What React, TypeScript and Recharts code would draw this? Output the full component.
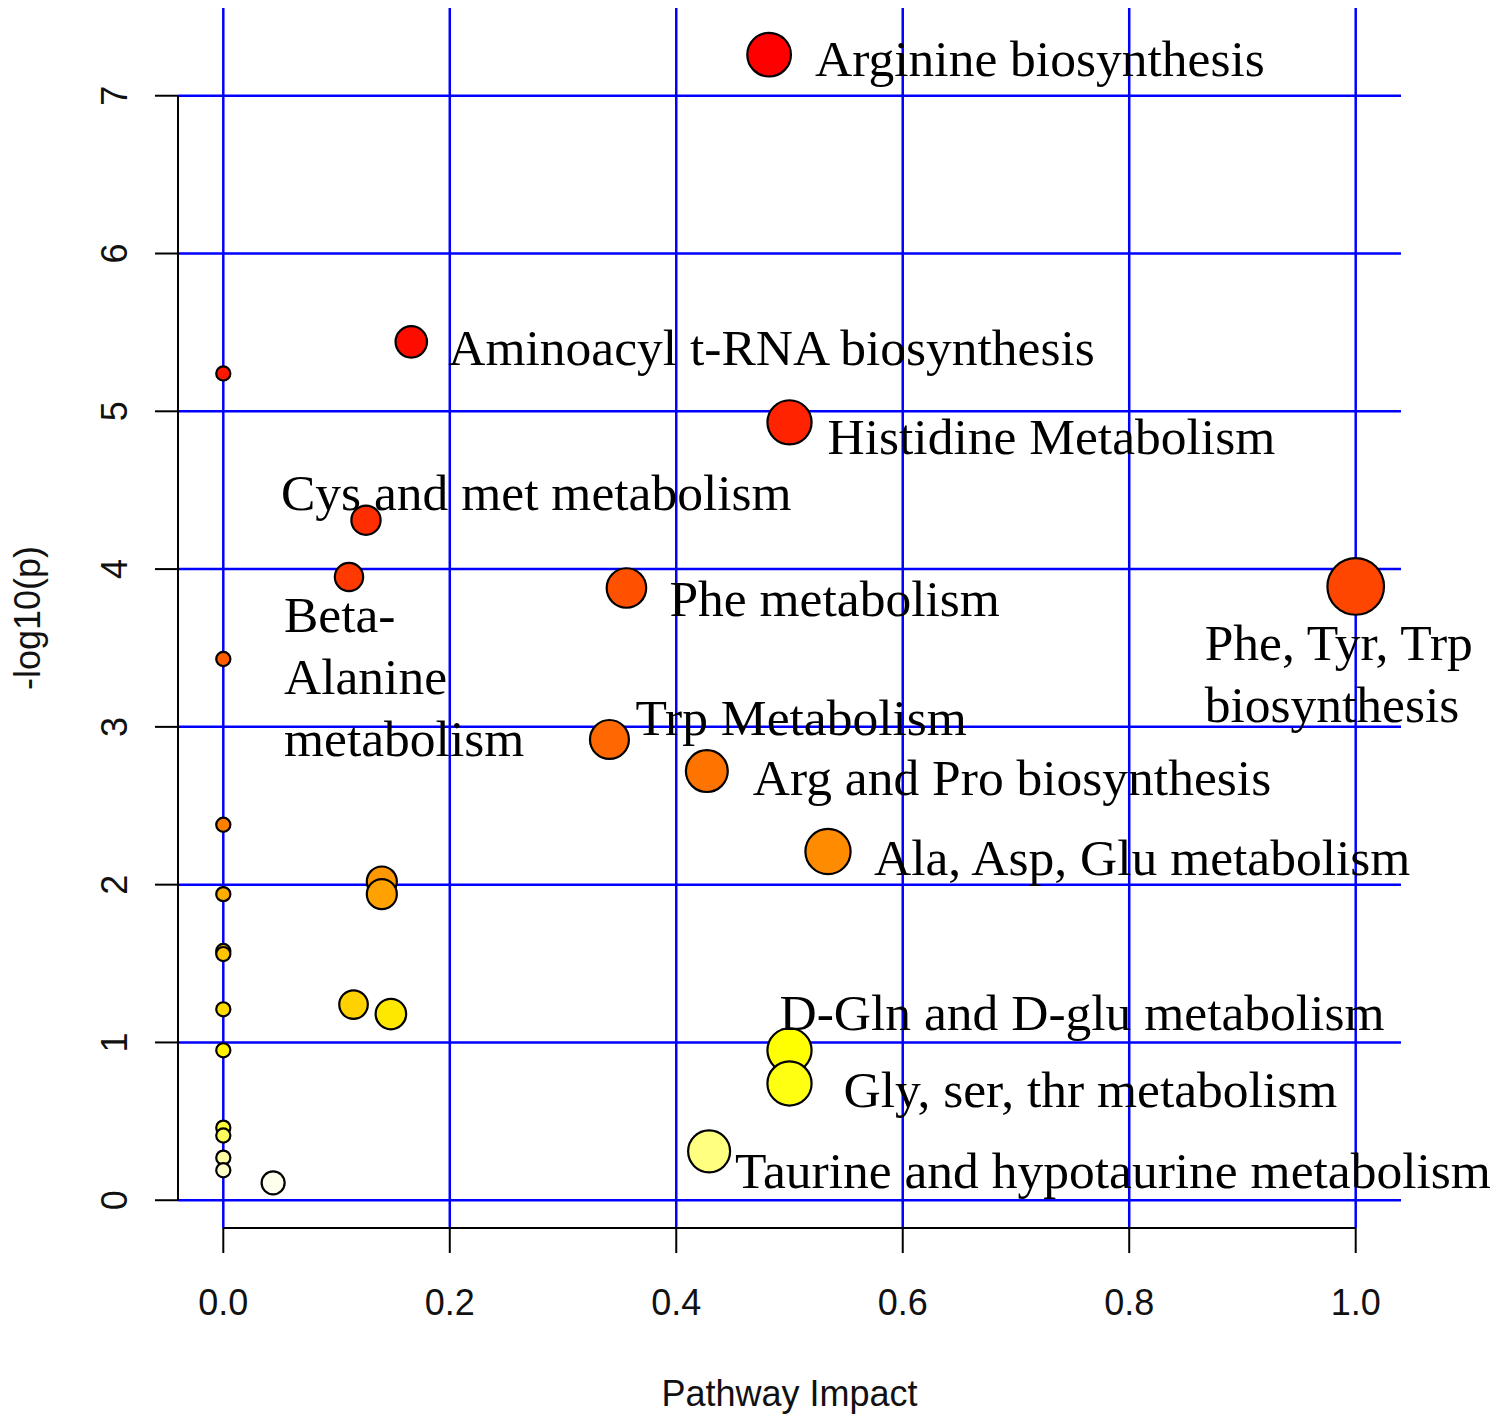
import React from 'react'
import {
  ScatterChart,
  Scatter,
  XAxis,
  YAxis,
  ReferenceLine,
  Label,
} from 'recharts'

// pathway impact (x) and -log10(p) (y), in plotting order (highest p first)
const impact = [
  0.482, 0.166, 0, 0.5, 0.126, 0.111, 1.0, 0.356, 0, 0.341, 0.427, 0, 0.534, 0.14, 0.14,
  0, 0, 0, 0.115, 0, 0.148, 0, 0.5, 0.5, 0, 0, 0.429, 0, 0, 0.044,
]
const negLogP = [
  7.26, 5.44, 5.24, 4.93, 4.31, 3.95, 3.89, 3.88, 3.43, 2.92, 2.72, 2.38, 2.21, 2.02, 1.94,
  1.94, 1.58, 1.56, 1.24, 1.21, 1.18, 0.95, 0.95, 0.74, 0.46, 0.41, 0.31, 0.27, 0.19, 0.11,
]
const pathwayNames: (string | null)[] = [
  'Arginine biosynthesis',
  'Aminoacyl t-RNA biosynthesis',
  null,
  'Histidine Metabolism',
  'Cys and met metabolism',
  'Beta-\nAlanine\nmetabolism',
  'Phe, Tyr, Trp\nbiosynthesis',
  'Phe metabolism',
  null,
  'Trp Metabolism',
  'Arg and Pro biosynthesis',
  null,
  'Ala, Asp, Glu metabolism',
  null, null, null, null, null, null, null, null, null,
  'D-Gln and D-glu metabolism',
  'Gly, ser, thr metabolism',
  null, null,
  'Taurine and hypotaurine metabolism',
  null, null, null,
]

const xTicks = [0, 0.2, 0.4, 0.6, 0.8, 1.0]
const yTicks = [0, 1, 2, 3, 4, 5, 6, 7]

// label placement relative to its bubble, in px (left / first baseline)
const labelOffsets: Record<string, [number, number]> = {
  'Arginine biosynthesis': [46, 21],
  'Aminoacyl t-RNA biosynthesis': [37, 23],
  'Histidine Metabolism': [38, 32],
  'Cys and met metabolism': [-85, -10],
  'Beta-\nAlanine\nmetabolism': [-65, 55],
  'Phe, Tyr, Trp\nbiosynthesis': [-151, 74],
  'Phe metabolism': [43, 28],
  'Trp Metabolism': [26, -4],
  'Arg and Pro biosynthesis': [46, 24],
  'Ala, Asp, Glu metabolism': [46, 23],
  'D-Gln and D-glu metabolism': [-10, -20],
  'Gly, ser, thr metabolism': [54, 24],
  'Taurine and hypotaurine metabolism': [26, 37],
}

const W = 1500
const H = 1420
const X_DOMAIN: [number, number] = [-0.04, 1.04]
const Y_DOMAIN: [number, number] = [-0.176, 7.556]
const PLOT_W = 1223
const PX_PER_X = PLOT_W / (X_DOMAIN[1] - X_DOMAIN[0])

const SANS = '"Liberation Sans", Arial, sans-serif'
const SERIF = '"Liberation Serif", "Times New Roman", serif'
const GRID = '#0000ff'

// R's heat.colors(n)
function heatColors(n: number): string[] {
  const hex = (v: number) => Math.round(v * 255).toString(16).padStart(2, '0')
  const j = Math.floor(n / 4)
  const i = n - j
  const cols: string[] = []
  for (let k = 0; k < i; k++) {
    const h = i > 1 ? k / (i - 1) / 6 : 0
    cols.push('#ff' + hex(h * 6) + '00')
  }
  const sFrom = 1 - 1 / (2 * j)
  const sTo = 1 / (2 * j)
  for (let k = 0; k < j; k++) {
    const s = j > 1 ? sFrom + ((sTo - sFrom) * k) / (j - 1) : sFrom
    cols.push('#ffff' + hex(1 - s))
  }
  return cols
}

const order = negLogP.map((_, i) => i).sort((a, b) => negLogP[b] - negLogP[a])
const palette = heatColors(negLogP.length)
const colorOf: string[] = []
order.forEach((idx, rank) => (colorOf[idx] = palette[rank]))

const points = impact.map((x, i) => ({
  x,
  y: negLogP[i],
  name: pathwayNames[i],
  color: colorOf[i],
}))
const labelled = points.filter((p) => p.name)

// MetaboAnalyst bubble radius (x units): minR + (maxR - minR) * sqrt(impact)
function radiusPx(x: number) {
  const minR = 1 / 160
  const maxR = 1 / 40
  return (minR + (maxR - minR) * Math.sqrt(x)) * PX_PER_X
}

// eslint-disable-next-line @typescript-eslint/no-explicit-any
function Bubble(props: any) {
  const { cx, cy, payload } = props
  return (
    <circle
      cx={cx}
      cy={cy}
      r={radiusPx(payload.x)}
      fill={payload.color}
      stroke="#000"
      strokeWidth={2.2}
    />
  )
}

// eslint-disable-next-line @typescript-eslint/no-explicit-any
function PathwayLabel(props: any) {
  const { cx, cy, payload } = props
  const [dx, dy] = labelOffsets[payload.name] || [30, 0]
  const lines: string[] = payload.name.split('\n')
  return (
    <text x={cx + dx} y={cy + dy} fontFamily={SERIF} fontSize={51.5} fill="#000">
      {lines.map((l, k) => (
        <tspan key={k} x={cx + dx} dy={k === 0 ? 0 : 62}>
          {l}
        </tspan>
      ))}
    </text>
  )
}

// eslint-disable-next-line @typescript-eslint/no-explicit-any
function XTick({ x, y, payload }: any) {
  return (
    <text x={x} y={y + 47} textAnchor="middle" dominantBaseline="central" fontFamily={SANS} fontSize={36} fill="#111">
      {Number(payload.value).toFixed(1)}
    </text>
  )
}

// eslint-disable-next-line @typescript-eslint/no-explicit-any
function YTick({ x, y, payload }: any) {
  const tx = x - 38
  return (
    <text
      x={tx}
      y={y}
      transform={`rotate(-90 ${tx} ${y})`}
      textAnchor="middle"
      dominantBaseline="central"
      fontFamily={SANS}
      fontSize={36}
      fill="#111"
    >
      {payload.value}
    </text>
  )
}

export default function App() {
  return (
    <div style={{ position: 'absolute', left: 0, top: 0, background: '#fff' }}>
      <ScatterChart width={W} height={H} margin={{ top: 8, right: 99, bottom: 0, left: 0 }}>
        <XAxis
          type="number"
          dataKey="x"
          domain={X_DOMAIN}
          ticks={xTicks}
          height={192}
          axisLine={false}
          tickLine={{ stroke: '#000', strokeWidth: 2 }}
          tickSize={25}
          tick={<XTick />}
          interval={0}
        >
          <Label
            content={(p: any) => {
              const vb = p.viewBox
              return (
                <text
                  x={vb.x + vb.width / 2}
                  y={vb.y + 165}
                  textAnchor="middle"
                  dominantBaseline="central"
                  fontFamily={SANS}
                  fontSize={36}
                  fill="#111"
                >
                  Pathway Impact
                </text>
              )
            }}
          />
        </XAxis>
        <YAxis
          type="number"
          dataKey="y"
          domain={Y_DOMAIN}
          ticks={yTicks}
          width={178}
          axisLine={false}
          tickLine={{ stroke: '#000', strokeWidth: 2 }}
          tickSize={23}
          tick={<YTick />}
          interval={0}
        >
          <Label
            content={(p: any) => {
              const vb = p.viewBox
              const cx = 27
              const cy = vb.y + vb.height / 2
              return (
                <text
                  x={cx}
                  y={cy}
                  transform={`rotate(-90 ${cx} ${cy})`}
                  textAnchor="middle"
                  dominantBaseline="central"
                  fontFamily={SANS}
                  fontSize={36}
                  fill="#111"
                >
                  -log10(p)
                </text>
              )
            }}
          />
        </YAxis>
        {/* blue grid at the tick positions only */}
        {yTicks.map((t) => (
          <ReferenceLine key={'gy' + t} y={t} stroke={GRID} strokeWidth={2.5} ifOverflow="visible" />
        ))}
        {xTicks.map((t) => (
          <ReferenceLine key={'gx' + t} x={t} stroke={GRID} strokeWidth={2.5} ifOverflow="visible" />
        ))}
        {/* R-style axis lines spanning first to last tick */}
        <ReferenceLine
          segment={[
            { x: X_DOMAIN[0], y: yTicks[0] },
            { x: X_DOMAIN[0], y: yTicks[yTicks.length - 1] },
          ]}
          stroke="#000"
          strokeWidth={2}
          ifOverflow="visible"
        />
        <ReferenceLine
          segment={[
            { x: xTicks[0], y: Y_DOMAIN[0] },
            { x: xTicks[xTicks.length - 1], y: Y_DOMAIN[0] },
          ]}
          stroke="#000"
          strokeWidth={2}
          ifOverflow="visible"
        />
        <Scatter data={points} shape={Bubble} isAnimationActive={false} />
        <Scatter data={labelled} shape={PathwayLabel} isAnimationActive={false} />
      </ScatterChart>
    </div>
  )
}
